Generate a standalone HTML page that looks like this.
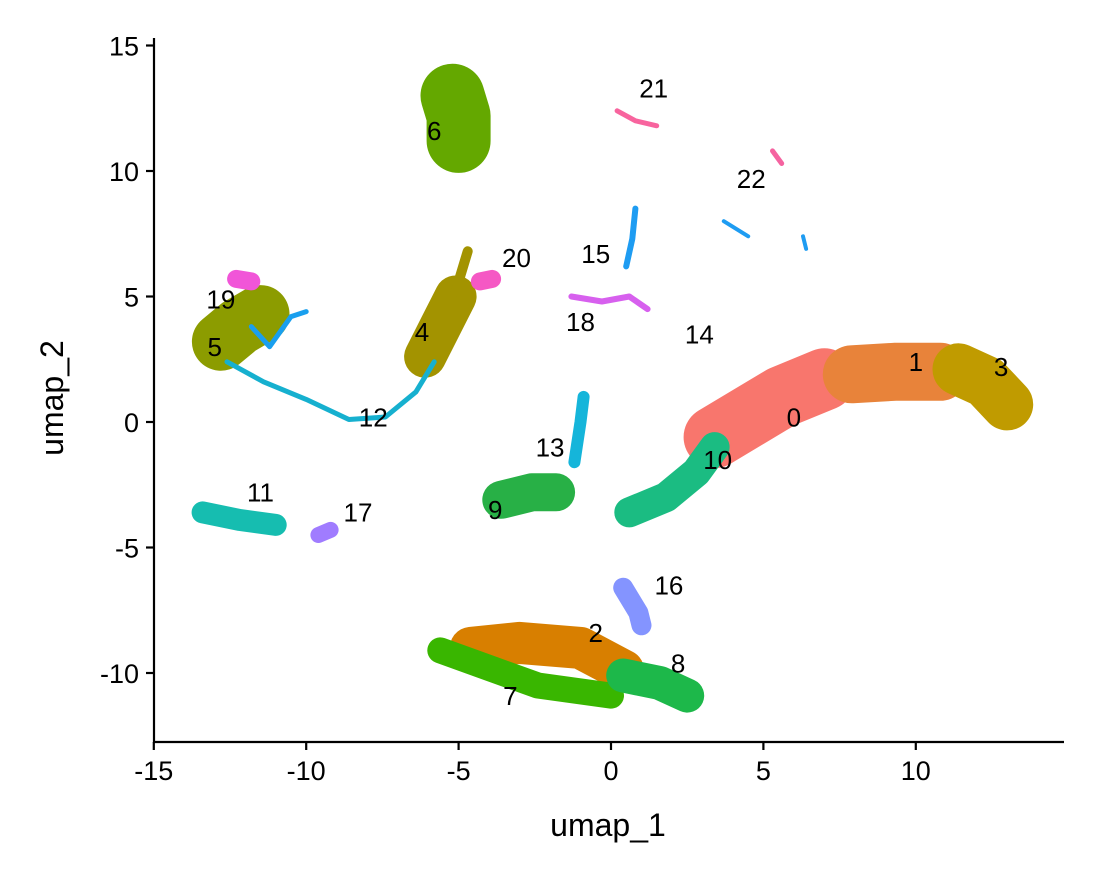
<!DOCTYPE html>
<html><head><meta charset="utf-8">
<style>
html,body{margin:0;padding:0;background:#fff;}
svg{display:block;font-family:"Liberation Sans",Arial,sans-serif;}
</style></head>
<body>
<svg id="chart" width="1100" height="880" viewBox="0 0 1100 880">
<g id="plot"></g>
<g id="axes"></g>
</svg>
<script>
// Cluster shapes in data coordinates (umap_1, umap_2)
const clusterIds = ["0","1","3","2","7","8","16","10","9","13","11","17","6","4","4b","5","19","12","12b","20","15","18","21","22a","22b","22c"];
const clusterColors = ["#F8766D","#E8833A","#C09B00","#D87F00","#39B600","#1DB84A","#8494FF","#1BBC82","#28B046","#15B5DA","#16BDB0","#A07CFF","#64A800","#A39300","#A39300","#8C9C00","#F155D8","#16B0CF","#199FEE","#F558C4","#1E9CF2","#D760EE","#F8649E","#F563A0","#1E9CF2","#1E9CF2"];
const clusterWidths = [62,58,52,42,26,34,20,30,38,12,22,16,64,42,10,58,18,5,5,18,6,6,5,5,4,4];
const clusterPaths = [
 [[3.4,-0.6],[4.5,0.2],[5.6,1.0],[7.0,1.7]],
 [[7.9,1.9],[9.3,2.0],[10.8,2.0]],
 [[11.4,2.1],[12.3,1.6],[13.0,0.7]],
 [[-4.6,-9.0],[-3.0,-8.8],[-1.0,-9.0],[0.4,-9.9]],
 [[-5.6,-9.1],[-4.0,-9.8],[-2.4,-10.5],[0.0,-10.9]],
 [[0.4,-10.1],[1.6,-10.4],[2.5,-10.9]],
 [[0.4,-6.6],[0.9,-7.6],[1.0,-8.1]],
 [[0.6,-3.6],[1.8,-3.0],[2.8,-2.0],[3.4,-1.0]],
 [[-3.6,-3.1],[-2.6,-2.8],[-1.8,-2.8]],
 [[-1.2,-1.6],[-1.0,0.0],[-0.9,1.0]],
 [[-13.4,-3.6],[-12.2,-3.9],[-11.0,-4.1]],
 [[-9.6,-4.5],[-9.2,-4.3]],
 [[-5.2,13.0],[-5.0,12.2],[-5.0,11.2]],
 [[-6.1,2.6],[-5.6,3.8],[-5.1,5.0]],
 [[-5.1,5.2],[-4.7,6.8]],
 [[-12.8,3.2],[-12.2,3.8],[-11.5,4.3]],
 [[-12.3,5.7],[-11.8,5.6]],
 [[-12.6,2.4],[-11.4,1.6],[-10.0,0.9],[-8.6,0.1],[-7.4,0.2],[-6.4,1.2],[-5.8,2.4]],
 [[-11.8,3.8],[-11.2,3.0],[-10.5,4.2],[-10.0,4.4]],
 [[-4.3,5.6],[-3.9,5.7]],
 [[0.5,6.2],[0.7,7.3],[0.8,8.5]],
 [[-1.3,5.0],[-0.3,4.8],[0.6,5.0],[1.2,4.5]],
 [[0.2,12.4],[0.8,12.0],[1.5,11.8]],
 [[5.3,10.8],[5.6,10.3]],
 [[3.7,8.0],[4.5,7.4]],
 [[6.3,7.4],[6.4,6.9]]
];
const labelText = ["0","1","2","3","4","5","6","7","8","9","10","11","12","13","14","15","16","17","18","19","20","21","22"];
const labelX = [6.0,10.0,-0.5,12.8,-6.2,-13.0,-5.8,-3.3,2.2,-3.8,3.5,-11.5,-7.8,-2.0,2.9,-0.5,1.9,-8.3,-1.0,-12.8,-3.1,1.4,4.6];
const labelY = [0.1,2.3,-8.5,2.1,3.5,2.9,11.5,-11.0,-9.7,-3.6,-1.6,-2.9,0.1,-1.1,3.4,6.6,-6.6,-3.7,3.9,4.8,6.45,13.2,9.6];
const xTicks = [-15,-10,-5,0,5,10];
const yTicks = [-10,-5,0,5,10,15];

const sx = v => 611 + v*30.48;
const sy = v => 422 - v*25.1;
const NS = "http://www.w3.org/2000/svg";
const plot = document.getElementById('plot');
const axes = document.getElementById('axes');

clusterPaths.forEach((pts,i)=>{
  const p = document.createElementNS(NS,'path');
  const d = pts.map((q,j)=>(j?'L':'M')+sx(q[0]).toFixed(1)+' '+sy(q[1]).toFixed(1)).join(' ');
  p.setAttribute('d', pts.length===1? d+' l0.1 0' : d);
  p.setAttribute('fill','none');
  p.setAttribute('stroke',clusterColors[i]);
  p.setAttribute('stroke-width',clusterWidths[i]);
  p.setAttribute('stroke-linecap','round');
  p.setAttribute('stroke-linejoin','round');
  
  
  plot.appendChild(p);
});

labelText.forEach((t,i)=>{
  const el = document.createElementNS(NS,'text');
  el.setAttribute('x',sx(labelX[i]));
  el.setAttribute('y',sy(labelY[i]));
  el.setAttribute('font-size','26');
  el.setAttribute('text-anchor','middle');
  el.setAttribute('dominant-baseline','middle');
  el.textContent = t;
  
  
  plot.appendChild(el);
});

function line(x1,y1,x2,y2,name){
  const l=document.createElementNS(NS,'line');
  l.setAttribute('x1',x1);l.setAttribute('y1',y1);l.setAttribute('x2',x2);l.setAttribute('y2',y2);
  l.setAttribute('stroke','#000');l.setAttribute('stroke-width','2.2');
  
  
  axes.appendChild(l);
}
line(154,38,154,743,'y-axis-line');
line(153,742,1064,742,'x-axis-line');
xTicks.forEach(v=>{
  line(sx(v),742,sx(v),750,'x-tick');
  const t=document.createElementNS(NS,'text');
  t.setAttribute('x',sx(v));t.setAttribute('y',780);t.setAttribute('font-size','27');t.setAttribute('text-anchor','middle');
  t.textContent=v;
  
  
  axes.appendChild(t);
});
yTicks.forEach(v=>{
  line(146,sy(v),154,sy(v),'y-tick');
  const t=document.createElementNS(NS,'text');
  t.setAttribute('x',139);t.setAttribute('y',sy(v)+10);t.setAttribute('font-size','27');t.setAttribute('text-anchor','end');
  t.textContent=v;
  
  
  axes.appendChild(t);
});
const xt=document.createElementNS(NS,'text');
xt.setAttribute('x',608);xt.setAttribute('y',836);xt.setAttribute('font-size','32');xt.setAttribute('text-anchor','middle');
xt.textContent='umap_1';


axes.appendChild(xt);
const yt=document.createElementNS(NS,'text');
yt.setAttribute('x',0);yt.setAttribute('y',0);yt.setAttribute('font-size','32');yt.setAttribute('text-anchor','middle');
yt.setAttribute('transform','translate(63,398) rotate(-90)');
yt.textContent='umap_2';


axes.appendChild(yt);
</script>
</body></html>
